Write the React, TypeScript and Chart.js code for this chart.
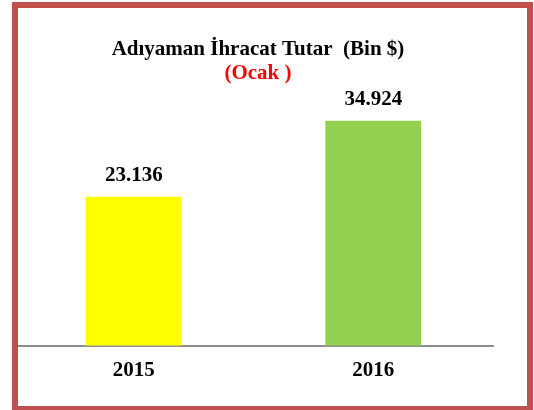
import React, { useEffect, useRef } from "react";
import { Chart, registerables } from "chart.js";

Chart.register(...registerables);

const categories: string[] = ["2015", "2016"];
const values: number[] = [23136, 34924];
const valueLabels: string[] = ["23.136", "34.924"];
const barColors: string[] = ["#ffff00", "#92d050"];
const titleText = "Adıyaman İhracat Tutar  (Bin $)";
const subtitleText = "(Ocak )";

const FONT_FAMILY = '"Liberation Serif", "Times New Roman", serif';

export default function App() {
  const ref = useRef<HTMLCanvasElement | null>(null);

  useEffect(() => {
    if (!ref.current) return;
    const titlePlugin = {
      id: "customTitle",
      afterDraw(chart: any) {
        const ctx = chart.ctx;
        ctx.save();
        ctx.font = `bold 21px ${FONT_FAMILY}`;
        ctx.textAlign = "center";
        ctx.textBaseline = "alphabetic";
        ctx.fillStyle = "#000000";
        ctx.fillText(titleText, 244, 47);
        ctx.fillStyle = "#ff0000";
        ctx.fillText(subtitleText, 244, 71);
        ctx.restore();
      },
    };
    const labelPlugin = {
      id: "barLabels",
      afterDatasetsDraw(chart: any) {
        const ctx = chart.ctx;
        const meta = chart.getDatasetMeta(0);
        ctx.save();
        ctx.font = `bold 21px ${FONT_FAMILY}`;
        ctx.textAlign = "center";
        ctx.textBaseline = "alphabetic";
        ctx.fillStyle = "#000000";
        meta.data.forEach((bar: any, i: number) => {
          ctx.fillText(valueLabels[i], bar.x, bar.y - 16);
        });
        ctx.restore();
      },
    };
    const chart = new Chart(ref.current, {
      type: "bar",
      data: {
        labels: categories,
        datasets: [
          {
            data: values,
            backgroundColor: barColors,
            borderWidth: 0,
            barPercentage: 0.4,
            categoryPercentage: 1,
          },
        ],
      },
      options: {
        responsive: false,
        animation: false,
        layout: { padding: { top: 80, bottom: 11, left: 0, right: 21 } },
        plugins: {
          legend: { display: false },
          title: { display: false },
          tooltip: { enabled: false },
        },
        scales: {
          x: {
            grid: { display: false, drawTicks: false },
            border: { display: true, color: "#8e8e8e", width: 2 },
            ticks: {
              color: "#000000",
              padding: 12,
              font: { family: FONT_FAMILY, size: 21, weight: "bold" },
            },
          },
          y: {
            display: false,
            min: 0,
            max: 40000,
          },
        },
      },
      plugins: [titlePlugin, labelPlugin],
    });
    return () => chart.destroy();
  }, []);

  return (
    <div>
      <canvas
        ref={ref}
        width={500}
        height={398}
        style={{ position: "fixed", left: 14, top: 8, width: 500, height: 398 }}
      />
      <div
        style={{
          position: "fixed",
          left: 12,
          top: 2,
          width: 521,
          height: 410,
          border: "6px solid #c0504d",
          boxSizing: "border-box",
          pointerEvents: "none",
        }}
      />
    </div>
  );
}
